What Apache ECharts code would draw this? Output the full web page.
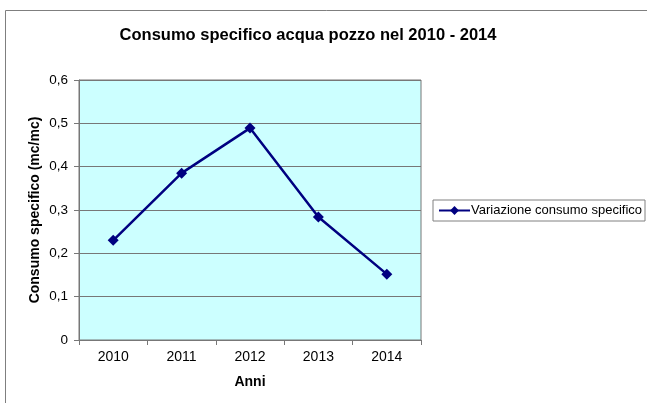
<!DOCTYPE html>
<html>
<head>
<meta charset="utf-8">
<script src="https://cdn.jsdelivr.net/npm/echarts@6/dist/echarts.min.js"></script>
<style>
html,body{margin:0;padding:0;background:#fff;}
#chart{width:647px;height:403px;}
</style>
</head>
<body>
<div id="chart"></div>
<script>
var categories = ['2010', '2011', '2012', '2013', '2014'];
var seriesName = 'Variazione consumo specifico';
var values = [0.230, 0.385, 0.489, 0.284, 0.152];

var chart = echarts.init(document.getElementById('chart'), null, {renderer: 'canvas'});
var font = '"Liberation Sans", Arial, sans-serif';
var diamond = 'path://M0,5 L5,0 L10,5 L5,10 Z';
chart.setOption({
  animation: false,
  backgroundColor: '#ffffff',
  title: {
    text: 'Consumo specifico acqua pozzo nel 2010 - 2014',
    left: 303, top: 22, textAlign: 'center',
    textStyle: {fontFamily: font, fontSize: 16.5, fontWeight: 'bold', color: '#000'}
  },
  graphic: [{
    type: 'rect', silent: true, z: -1,
    shape: {x: 5.5, y: 10.5, width: 660, height: 420},
    style: {fill: 'none', stroke: '#7f7f7f', lineWidth: 1}
  }],
  legend: {
    data: [seriesName],
    left: 433, top: 200,
    orient: 'vertical',
    padding: [4, 3, 4, 5],
    itemWidth: 31, itemHeight: 11,
    itemGap: 4,
    borderColor: '#808080', borderWidth: 1,
    textStyle: {fontFamily: font, fontSize: 13, color: '#000', padding: [0, 0, 0, -4]}
  },
  grid: {left: 79, top: 80, right: 226, bottom: 63, show: true,
         backgroundColor: '#CCFFFF', borderColor: '#777777', borderWidth: 1},
  xAxis: {
    type: 'category', data: categories, boundaryGap: true,
    name: 'Anni', nameLocation: 'middle', nameGap: 35,
    nameTextStyle: {fontFamily: font, fontSize: 14, fontWeight: 'bold', color: '#000'},
    axisLine: {lineStyle: {color: '#777777', width: 1}},
    axisTick: {show: true, length: 5, lineStyle: {color: '#777777'}},
    axisLabel: {fontFamily: font, fontSize: 14, color: '#000', margin: 10},
    splitLine: {show: false}
  },
  yAxis: {
    type: 'value', min: 0, max: 0.6, interval: 0.1,
    name: 'Consumo specifico (mc/mc)', nameLocation: 'middle', nameGap: 37,
    nameMoveOverlap: false,
    nameTextStyle: {fontFamily: font, fontSize: 14, fontWeight: 'bold', color: '#000'},
    axisLine: {show: true, lineStyle: {color: '#777777', width: 1}},
    axisTick: {show: true, length: 5, lineStyle: {color: '#777777'}},
    axisLabel: {fontFamily: font, fontSize: 13.5, color: '#000', margin: 11,
      formatter: function (v) { return v === 0 ? '0' : v.toFixed(1).replace('.', ','); }},
    splitLine: {show: true, lineStyle: {color: '#777777', width: 1}}
  },
  series: [{
    name: seriesName, type: 'line', data: values,
    symbol: diamond, symbolSize: 11,
    lineStyle: {color: '#000080', width: 2.5},
    itemStyle: {color: '#000080'}
  }]
});
</script>
</body>
</html>
